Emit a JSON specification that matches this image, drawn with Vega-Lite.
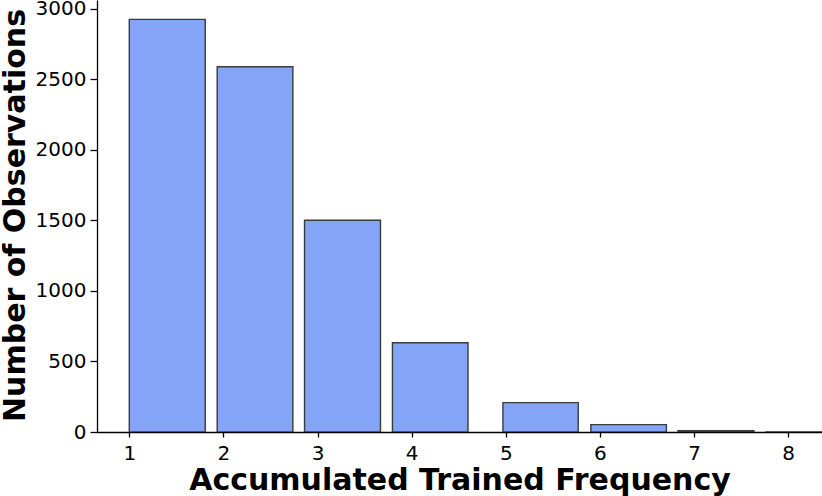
{
  "$schema": "https://vega.github.io/schema/vega-lite/v6.json",
  "width": 725,
  "height": 432,
  "autosize": {"type": "none"},
  "padding": {"left": 97, "top": 0, "right": 0, "bottom": 64},
  "background": "white",
  "config": {
    "view": {"stroke": null},
    "font": "DejaVu Sans",
    "axis": {
      "grid": false,
      "domainColor": "black",
      "domainWidth": 1.3,
      "tickColor": "black",
      "tickWidth": 1.3,
      "labelFont": "DejaVu Sans",
      "labelFontSize": 20,
      "labelColor": "black",
      "titleFont": "DejaVu Sans",
      "titleFontSize": 30,
      "titleFontWeight": "bold",
      "titleColor": "black"
    }
  },
  "data": {
    "values": [
      {"start": 1.0, "end": 1.807, "count": 2924},
      {"start": 1.934, "end": 2.738, "count": 2588},
      {"start": 2.862, "end": 3.669, "count": 1500},
      {"start": 3.796, "end": 4.599, "count": 632},
      {"start": 4.97, "end": 5.77, "count": 208},
      {"start": 5.904, "end": 6.707, "count": 52},
      {"start": 6.83, "end": 7.637, "count": 9},
      {"start": 7.764, "end": 8.57, "count": 1}
    ]
  },
  "mark": {
    "type": "rect",
    "clip": true,
    "color": "#84A4F8",
    "stroke": "#3a3a3a",
    "strokeWidth": 1.4
  },
  "encoding": {
    "x": {
      "field": "start",
      "type": "quantitative",
      "scale": {"domain": [0.657, 8.36], "nice": false, "zero": false},
      "axis": {
        "title": "Accumulated Trained Frequency",
        "values": [1, 2, 3, 4, 5, 6, 7, 8],
        "format": "d",
        "tickSize": 5,
        "labelPadding": 6,
        "titleBaseline": "alphabetic",
        "titleY": 57
      }
    },
    "x2": {"field": "end"},
    "y": {
      "field": "count",
      "type": "quantitative",
      "scale": {"domain": [0, 3061], "nice": false},
      "axis": {
        "title": "Number of Observations",
        "values": [0, 500, 1000, 1500, 2000, 2500, 3000],
        "format": "d",
        "tickSize": 7,
        "labelPadding": 4,
        "titleBaseline": "alphabetic",
        "titleX": -73,
        "titleY": 215
      }
    },
    "y2": {"datum": 0}
  }
}
